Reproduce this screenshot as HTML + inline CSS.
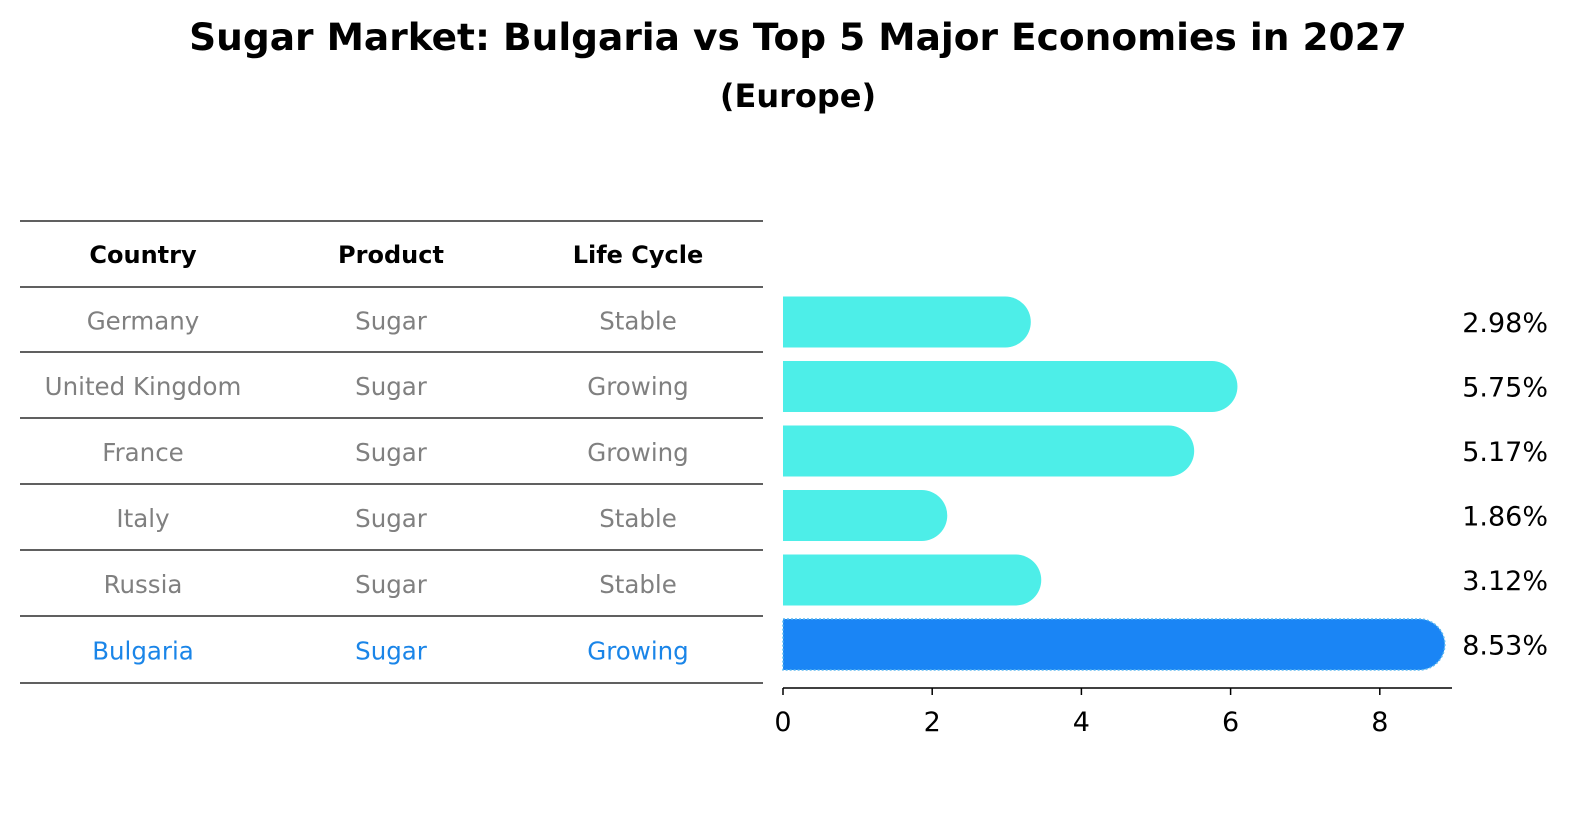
<!DOCTYPE html>
<html><head><meta charset="utf-8"><style>
body{margin:0;background:#fff;font-family:"DejaVu Sans","Liberation Sans",sans-serif;}
</style></head><body>
<svg width="1586" height="823" xmlns="http://www.w3.org/2000/svg" font-family="DejaVu Sans, Liberation Sans, sans-serif">
<rect width="1586" height="823" fill="#fff"/>
<text x="798" y="50" text-anchor="middle" font-size="37.5" font-weight="bold">Sugar Market: Bulgaria vs Top 5 Major Economies in 2027</text>
<text x="798" y="107" text-anchor="middle" font-size="32" font-weight="bold">(Europe)</text>
<g id="table"></g>
<g id="chart"></g>
</svg>
<script>
const countries=["Germany","United Kingdom","France","Italy","Russia","Bulgaria"];
const products=["Sugar","Sugar","Sugar","Sugar","Sugar","Sugar"];
const lifeCycles=["Stable","Growing","Growing","Stable","Stable","Growing"];
const values=[2.98,5.75,5.17,1.86,3.12,8.53];
const ticks=[0,2,4,6,8];
const NS="http://www.w3.org/2000/svg";
function mk(tag,attrs,parent,text){const e=document.createElementNS(NS,tag);for(const k in attrs)e.setAttribute(k,attrs[k]);if(text!==undefined)e.textContent=text;parent.appendChild(e);return e;}
const x=v=>783+v*74.6;
const rowY=i=>322+i*64.5;
const tbl=document.getElementById('table');
const lineYs=[221,287,352,418,484,550,616,683];
lineYs.forEach(y=>{const l=mk('line',{x1:20,x2:763,y1:y,y2:y,stroke:'#000','stroke-width':1.2},tbl);

});
const colX=[143,391,638];
["Country","Product","Life Cycle"].forEach((h,j)=>{const t=mk('text',{x:colX[j],y:263,'text-anchor':'middle','font-size':24,'font-weight':'bold'},tbl,h);

});
countries.forEach((c,i)=>{const y=(lineYs[i+1]+lineYs[i+2])/2+10;const col=i===5?'#1a85e8':'#808080';
[c,products[i],lifeCycles[i]].forEach((v,j)=>{const t=mk('text',{x:colX[j],y:y,'text-anchor':'middle','font-size':24.5,fill:col},tbl,v);

});});
const ch=document.getElementById('chart');
const h=51,r=25.5;
values.forEach((v,i)=>{const cy=rowY(i);const y0=cy-h/2;const x0=x(0);const x1=x(v);
const d=`M${x0},${y0} H${x1} A${r},${r} 0 0 1 ${x1},${y0+h} H${x0} Z`;
const p=mk('path',{d:d,fill:i===5?'#1a85f5':'#4deee8'},ch);
if(i===5){p.setAttribute('stroke','#5ab8f0');p.setAttribute('stroke-width','1.5');p.setAttribute('stroke-dasharray','2,2');}


const t=mk('text',{x:1548,y:cy+10,'text-anchor':'end','font-size':27},ch,v.toFixed(2)+'%');

});
const ax=mk('line',{x1:783,x2:1452,y1:688,y2:688,stroke:'#000','stroke-width':1.5},ch);


ticks.forEach(t=>{const tk=mk('line',{x1:x(t),x2:x(t),y1:688,y2:695,stroke:'#000','stroke-width':1.5},ch);


const lb=mk('text',{x:x(t),y:731,'text-anchor':'middle','font-size':27},ch,String(t));

});
</script>
</body></html>
